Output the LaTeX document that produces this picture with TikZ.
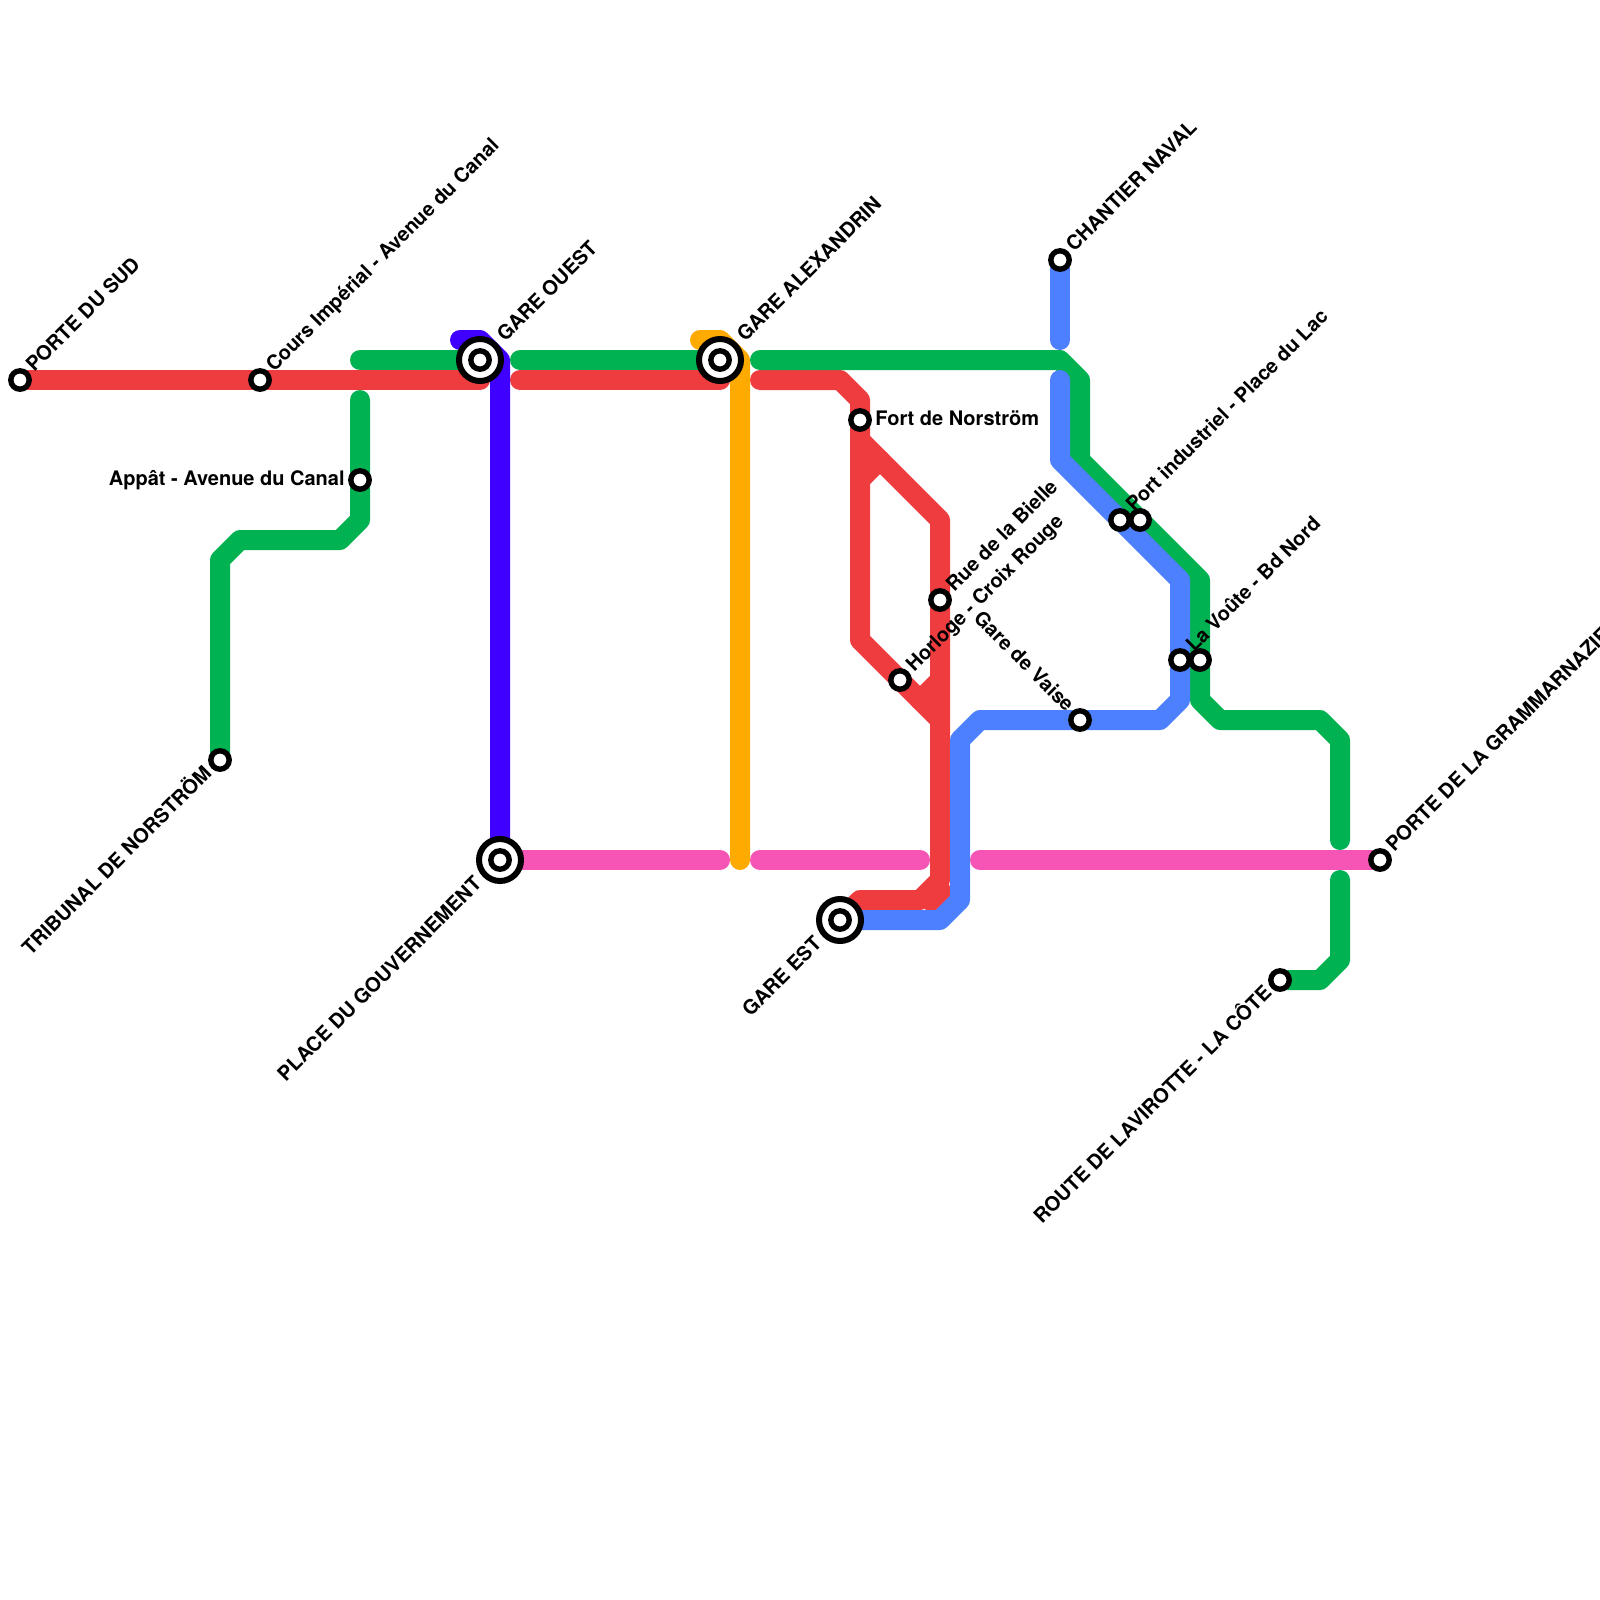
\documentclass[tikz,border=0pt]{standalone}
\usepackage{fontspec}
\setmainfont{TeX Gyre Heros}
\definecolor{lred}{HTML}{EF3C3E}
\definecolor{lgreen}{HTML}{00B251}
\definecolor{lviolet}{HTML}{4000FF}
\definecolor{lorange}{HTML}{FFAA00}
\definecolor{lpink}{HTML}{F655B5}
\definecolor{lblue}{HTML}{4D80FF}
\tikzset{
  metro/.style={line width=10pt,line cap=round,line join=round},
  stn/.style={circle,draw=black,fill=white,line width=2.7pt,minimum size=9.2pt,inner sep=0pt},
  hubouter/.style={circle,draw=black,fill=white,line width=3pt,minimum size=21pt,inner sep=0pt},
  lab/.style={font=\bfseries\fontsize{10}{12}\selectfont,inner sep=0pt,text=black},
  ne/.style={lab,rotate=45,anchor=base west},
  sw/.style={lab,rotate=45,anchor=base east},
  nw/.style={lab,rotate=-45,anchor=base east},
  ee/.style={lab,anchor=base west},
  ww/.style={lab,anchor=base east}
}
\begin{document}
\begin{tikzpicture}[x=0.5pt,y=-0.5pt]
\useasboundingbox (0,0) rectangle (1600,1600);
% station positions
\coordinate (sud) at (20,380);
\coordinate (cours) at (260,380);
\coordinate (appat) at (360,480);
\coordinate (trib) at (220,760);
\coordinate (ouest) at (480,360);
\coordinate (gouv) at (500,860);
\coordinate (alex) at (720,360);
\coordinate (fort) at (860,420);
\coordinate (bielle) at (940,600);
\coordinate (horloge) at (900,680);
\coordinate (est) at (840,920);
\coordinate (vaise) at (1080,720);
\coordinate (chantier) at (1060,260);
\coordinate (porta) at (1120,520);
\coordinate (portb) at (1140,520);
\coordinate (voutea) at (1180,660);
\coordinate (voutb) at (1200,660);
\coordinate (gramm) at (1380,860);
\coordinate (route) at (1280,980);
% red
\draw[metro,lred] (sud) -- (480,380);
\draw[metro,lred] (520,380) -- (720,380);
\draw[metro,lred] (760,380) -- (840,380) -- (860,400) -- (860,640) -- (940,720);
\draw[metro,lred] (860,440) -- (940,520) -- (940,880) -- (920,900) -- (860,900) -- (est);
\draw[metro,lred] (860,480) -- (880,460);
\draw[metro,lred] (920,700) -- (940,680);
\draw[metro,lred] (942,892) -- (932,902);
% pink
\draw[metro,lpink] (gouv) -- (720,860);
\draw[metro,lpink] (760,860) -- (920,860);
\draw[metro,lpink] (980,860) -- (gramm);
% violet
\draw[metro,lviolet] (460,340) -- (480,340) -- (500,360) -- (gouv);
% orange
\draw[metro,lorange] (700,340) -- (720,340) -- (740,360) -- (740,860);
% green
\draw[metro,lgreen] (360,360) -- (ouest);
\draw[metro,lgreen] (520,360) -- (alex);
\draw[metro,lgreen] (760,360) -- (1060,360) -- (1080,380) -- (1080,460) -- (1200,580) -- (1200,700) -- (1220,720) -- (1320,720) -- (1340,740) -- (1340,840);
\draw[metro,lgreen] (1340,880) -- (1340,960) -- (1320,980) -- (route);
\draw[metro,lgreen] (360,400) -- (360,520) -- (340,540) -- (240,540) -- (220,560) -- (trib);
% blue
\draw[metro,lblue] (chantier) -- (1060,340);
\draw[metro,lblue] (1060,380) -- (1060,460) -- (1180,580) -- (1180,700) -- (1160,720) -- (980,720) -- (960,740) -- (960,900) -- (940,920) -- (est);
% stations
\node[stn] (nsud) at (sud) {};
\node[stn] (ncours) at (cours) {};
\node[stn] (nappat) at (appat) {};
\node[stn] (ntrib) at (trib) {};
\node[hubouter] (nouesto) at (ouest) {};
\node[stn] (nouest) at (ouest) {};
\node[hubouter] (ngouvo) at (gouv) {};
\node[stn] (ngouv) at (gouv) {};
\node[hubouter] (nalexo) at (alex) {};
\node[stn] (nalex) at (alex) {};
\node[stn] (nfort) at (fort) {};
\node[stn] (nbielle) at (bielle) {};
\node[stn] (nhorloge) at (horloge) {};
\node[hubouter] (nesto) at (est) {};
\node[stn] (nest) at (est) {};
\node[stn] (nvaise) at (vaise) {};
\node[stn] (nchantier) at (chantier) {};
\node[stn] (nporta) at (porta) {};
\node[stn] (nportb) at (portb) {};
\node[stn] (nvoutea) at (voutea) {};
\node[stn] (nvoutb) at (voutb) {};
\node[stn] (ngramm) at (gramm) {};
\node[stn] (nroute) at (route) {};
% labels
\node[ne] (tsud) at ([shift={(14,-7)}]sud) {PORTE DU SUD};
\node[ne] (tcours) at ([shift={(14,-7)}]cours) {Cours Impérial - Avenue du Canal};
\node[ww] (tappat) at ([shift={(-15,5)}]appat) {Appât - Avenue du Canal};
\node[sw] (ttrib) at ([shift={(-7,14)}]trib) {TRIBUNAL DE NORSTRÖM};
\node[ne] (touest) at ([shift={(25,-17)}]ouest) {GARE OUEST};
\node[sw] (tgouv) at ([shift={(-17,25)}]gouv) {PLACE DU GOUVERNEMENT};
\node[ne] (talex) at ([shift={(25,-17)}]alex) {GARE ALEXANDRIN};
\node[ee] (tfort) at ([shift={(15,5)}]fort) {Fort de Norström};
\node[ne] (tbielle) at ([shift={(14,-7)}]bielle) {Rue de la Bielle};
\node[ne] (thorloge) at ([shift={(14,-7)}]horloge) {Horloge - Croix Rouge};
\node[sw] (test) at ([shift={(-17,25)}]est) {GARE EST};
\node[nw] (tvaise) at ([shift={(-14,-7)}]vaise) {Gare de Vaise};
\node[ne] (tchantier) at ([shift={(14,-7)}]chantier) {CHANTIER NAVAL};
\node[ne] (tport) at ([shift={(14,-7)}]porta) {Port industriel - Place du Lac};
\node[ne] (tvoute) at ([shift={(14,-7)}]voutea) {La Voûte - Bd Nord};
\node[ne] (tgramm) at ([shift={(14,-7)}]gramm) {PORTE DE LA GRAMMARNAZIE};
\node[sw] (troute) at ([shift={(-7,14)}]route) {ROUTE DE LAVIROTTE - LA CÔTE};
\end{tikzpicture}
\end{document}
